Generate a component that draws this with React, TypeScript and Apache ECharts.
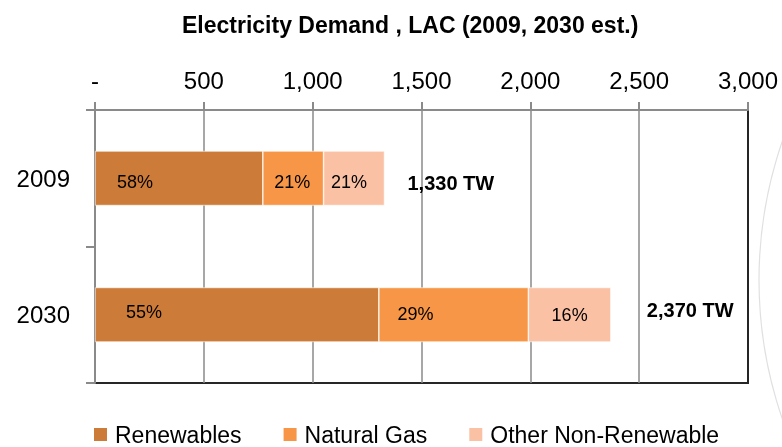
import React, { useEffect, useRef } from "react";
import * as echarts from "echarts";

const categories = ["2009", "2030"];
const renewables = [771, 1304];
const naturalGas = [279, 687];
const otherNonRenewable = [280, 379];
const renewablesShare = ["58%", "55%"];
const naturalGasShare = ["21%", "29%"];
const otherShare = ["21%", "16%"];
const totalLabels = ["1,330 TW", "2,370 TW"];
const xTickLabels = ["-", "500", "1,000", "1,500", "2,000", "2,500", "3,000"];
const seriesNames = ["Renewables", "Natural Gas", "Other Non-Renewable"];

const FONT = "'Liberation Sans', Arial, sans-serif";
const GRAY = "#8a8a8a";
const DARK = "#262626";

export default function App() {
  const ref = useRef<HTMLDivElement>(null);

  useEffect(() => {
    if (!ref.current) return;
    const chart = echarts.init(ref.current, undefined, { renderer: "svg" });

    const pctLabel = (labels: string[], offsets: number[][]) =>
      labels.map((l, i) => ({
        show: true,
        position: "inside",
        offset: offsets[i],
        formatter: l,
        color: "#000",
        fontSize: 18,
        fontFamily: FONT,
      }));

    const makeData = (vals: number[], labels: any[]) =>
      vals.map((v, i) => ({ value: v, label: labels[i] }));

    const itemBorder = { borderColor: "#ffffff", borderWidth: 0.6 };

    chart.setOption({
      animation: false,
      title: {
        text: "Electricity Demand , LAC (2009, 2030 est.)",
        left: 177,
        top: 8,
        textStyle: { fontFamily: FONT, fontSize: 23, fontWeight: "bold", color: "#000" },
      },
      legend: {
        data: seriesNames,
        left: 87,
        top: 418,
        padding: 5,
        itemWidth: 15,
        itemHeight: 15,
        itemGap: 40,
        icon: "rect",
        textStyle: { fontFamily: FONT, fontSize: 23, color: "#000", padding: [0, 0, 0, 2] },
      },
      grid: {
        left: 95,
        right: 34,
        top: 110,
        bottom: 64,
        show: true,
        borderColor: DARK,
        borderWidth: 2,
        backgroundColor: "transparent",
      },
      xAxis: {
        type: "value",
        position: "top",
        min: 0,
        max: 3000,
        interval: 500,
        axisLine: { show: true, lineStyle: { color: GRAY, width: 2 } },
        axisTick: { show: true, length: 8, lineStyle: { color: GRAY, width: 2 } },
        splitLine: {
          show: true,
          lineStyle: { color: [GRAY, GRAY, GRAY, GRAY, GRAY, GRAY, DARK], width: 1.5 },
        },
        axisLabel: {
          margin: 18,
          fontFamily: FONT,
          fontSize: 24,
          color: "#000",
          formatter: (v: number) => xTickLabels[Math.round(v / 500)],
        },
      },
      yAxis: {
        type: "category",
        data: categories,
        inverse: true,
        axisLine: { show: true, lineStyle: { color: GRAY, width: 2 } },
        axisTick: { show: true, length: 9, lineStyle: { color: GRAY, width: 2 } },
        axisLabel: { margin: 25, fontFamily: FONT, fontSize: 24, color: "#000" },
      },
      graphic: [
        {
          type: "circle",
          shape: { cx: 1184, cy: 280, r: 425 },
          style: { fill: "none", stroke: "#e0e0e0", lineWidth: 1.2 },
          silent: true,
        },
      ],
      series: [
        {
          name: seriesNames[0],
          type: "bar",
          stack: "total",
          barCategoryGap: "60%",
          itemStyle: { color: "#CD7B39", ...itemBorder },
          data: makeData(renewables, pctLabel(renewablesShare, [[-44, 4], [-93, -3]])),
        },
        {
          name: seriesNames[1],
          type: "bar",
          stack: "total",
          barCategoryGap: "60%",
          itemStyle: { color: "#F79646", ...itemBorder },
          data: makeData(naturalGas, pctLabel(naturalGasShare, [[-1, 4], [-38, -1]])),
        },
        {
          name: seriesNames[2],
          type: "bar",
          stack: "total",
          barCategoryGap: "60%",
          itemStyle: { color: "#FAC1A5", ...itemBorder },
          data: makeData(otherNonRenewable, pctLabel(otherShare, [[-5, 4], [0, 0]])),
        },
        {
          name: "Total",
          type: "bar",
          stack: "total",
          barCategoryGap: "60%",
          itemStyle: { color: "transparent" },
          data: totalLabels.map((t, i) => ({
            value: 0,
            label: {
              show: true,
              position: "right",
              distance: 0,
              offset: i === 0 ? [23, 5] : [36, -5],
              formatter: t,
              color: "#000",
              fontSize: 20,
              fontWeight: "bold",
              fontFamily: FONT,
            },
          })),
        },
      ],
    });

    return () => chart.dispose();
  }, []);

  return (
    <div
      ref={ref}
      style={{ position: "fixed", left: 0, top: 0, width: 782, height: 447 }}
    />
  );
}
